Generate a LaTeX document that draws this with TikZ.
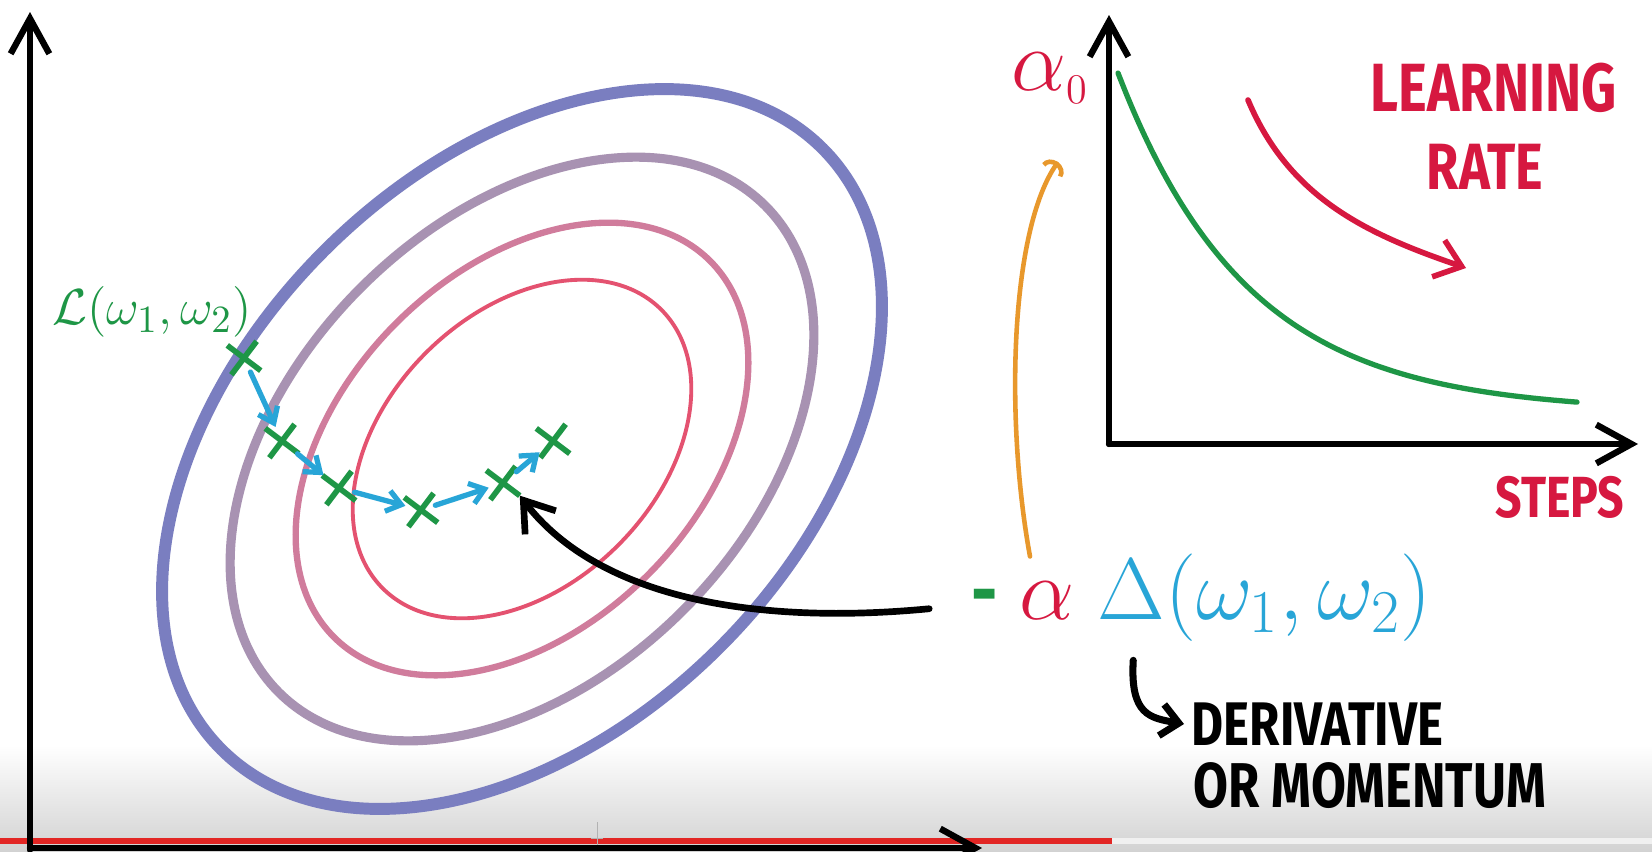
\documentclass[tikz,border=0pt]{standalone}
\usepackage{fontspec}
\usepackage{amsmath}
\usetikzlibrary{arrows.meta,positioning,shapes.misc}
\newfontfamily\handfont[FakeStretch=0.8]{Fira Sans}
\definecolor{penred}{RGB}{214,24,64}
\definecolor{pengreen}{RGB}{30,150,70}
\definecolor{penblue}{RGB}{40,165,215}
\definecolor{penorange}{RGB}{232,152,44}
\definecolor{ringA}{RGB}{122,126,192}
\definecolor{ringB}{RGB}{168,146,178}
\definecolor{ringC}{RGB}{208,124,156}
\definecolor{ringD}{RGB}{228,82,112}
\definecolor{barred}{RGB}{226,38,36}
\begin{document}
\begin{tikzpicture}[x=0.01cm, y=-0.01cm,
    axisline/.style={line width=1.8pt, line cap=round, -{Straight Barb[length=10pt,width=11pt]}},
    steparrow/.style={penblue, line width=1.5pt, line cap=round, -{Straight Barb[length=4pt,width=6pt]}},
    xmark/.style={cross out, draw=pengreen, line width=1.6pt, minimum size=0.24cm, inner sep=0pt, rotate=8},
    formula/.style={font=\fontsize{23}{26}\selectfont, inner sep=0pt},
    handtext/.style={font=\handfont\bfseries\fontsize{#1}{#1}\selectfont, inner sep=2pt}]
  \useasboundingbox (0,0) rectangle (1652,851);
  % 背景と再生バー
  \fill[white] (0,0) rectangle (1652,851);
  \shade[top color=white, bottom color=gray!35] (0,745) rectangle (1652,851);
  \fill[gray!12] (1112,838) rectangle (1652,844);
  \fill[barred] (0,838) rectangle (1112,844);
  \draw[gray!60, very thin] (597,822) -- (597,851) (591,838) -- (603,838);

  % 左の座標軸
  \draw[axisline] (30,850) -- (30,12);
  \draw[axisline] (30,848) -- (982,848);

  % 等高線
  \draw[ringA, line width=3.4pt, rotate around={45:(522,449)}] (522,449) ellipse (425 and 280);
  \draw[ringB, line width=2.6pt, rotate around={45:(522,449)}] (522,449) ellipse (344 and 228);
  \draw[ringC, line width=1.8pt, rotate around={45:(522,449)}] (522,449) ellipse (266 and 178);
  \draw[ringD, line width=1.1pt, rotate around={45:(522,449)}] (522,449) ellipse (197 and 136);

  % 勾配降下の点
  \node[xmark] (p1) at (244,358) {};
  \node[xmark] (p2) at (282,441) {};
  \node[xmark] (p3) at (339,488) {};
  \node[xmark] (p4) at (421,510) {};
  \node[xmark] (p5) at (503,483) {};
  \node[xmark] (p6) at (553,441) {};
  \draw[steparrow] (p1) -- (p2);
  \draw[steparrow] (p2) -- (p3);
  \draw[steparrow] (p3) -- (p4);
  \draw[steparrow] (p4) -- (p5);
  \draw[steparrow] (p5) -- (p6);
  \node[pengreen, font=\fontsize{15}{18}\selectfont] (loss) at (152,312) {$\mathcal{L}(\omega_1,\omega_2)$};

  % 更新式
  \node[formula, penred] (alpha) at (1047,601) {$\alpha$};
  \node[formula, pengreen, base left=0.2cm of alpha] (minus) {\handfont\bfseries -};
  \node[formula, penblue, base right=0.22cm of alpha] (grad) {$\Delta(\omega_1,\omega_2)$};
  \draw[line width=1.9pt, line cap=round, shorten <=0.42cm, -{Straight Barb[length=8pt,width=11pt]}]
    (minus.west) .. controls (760,625) and (600,600) .. (p5.south east);

  % 右のグラフ
  \draw[axisline] (1109,444) -- (1109,15);
  \draw[axisline] (1109,444) -- (1638,444);
  \draw[pengreen, line width=1.5pt, line cap=round] plot[domain=1118:1577, samples=60, smooth] (\x, {412-339*exp(-(\x-1118)/130)});
  \node[formula, penred] (a0) at (1050,78) {$\alpha_{\scriptscriptstyle 0}$};
  \coordinate (a0tip) at (1058,162);
  \draw[penorange, line width=1.3pt, line cap=round, -{Arc Barb[length=3pt,width=7pt]}]
    ([shift={(-17,-25)}]alpha.north) .. controls (1005,420) and (1010,230) .. (a0tip);
  \node[handtext=19.4, penred] (learn) at (1494,88) {LEARNING};
  \node[handtext=18.6, penred] (rate) at (1485,167) {RATE};
  \coordinate (lr1) at (1248,100);
  \coordinate (lr2) at (1466,268);
  \draw[penred, line width=1.6pt, line cap=round, -{Straight Barb[length=7pt,width=11pt]}]
    (lr1) .. controls (1290,200) and (1370,235) .. (lr2);
  \node[handtext=16.5, penred] (steps) at (1560,497) {STEPS};

  % 微分またはモメンタム
  \node[handtext=17.5, anchor=west] (deriv) at (1184,724) {DERIVATIVE};
  \node[handtext=18, anchor=north west] (mom) at ([shift={(2,2)}]deriv.south west) {OR MOMENTUM};
  \draw[line width=2pt, line cap=round, -{Straight Barb[length=5pt,width=9pt]}]
    ([shift={(36,18)}]grad.south west) .. controls (1130,715) and (1150,718) .. (deriv.west);
\end{tikzpicture}
\end{document}
